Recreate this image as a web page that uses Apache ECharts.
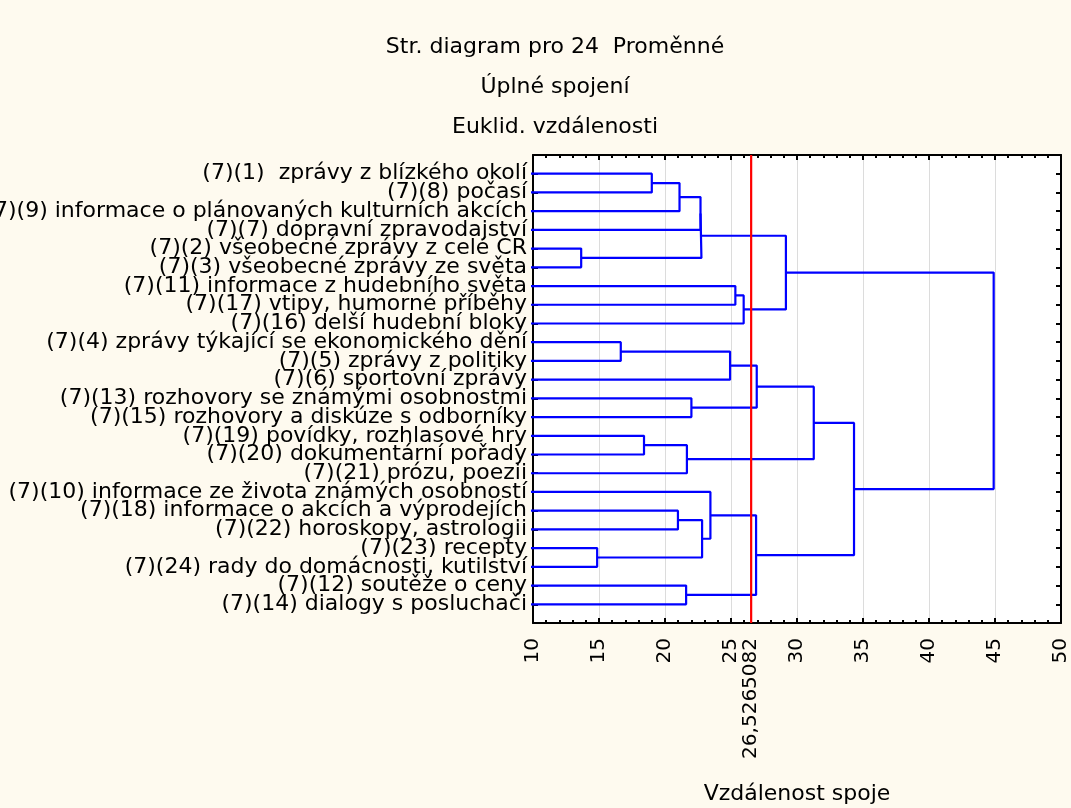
<!DOCTYPE html>
<html>
<head>
<meta charset="utf-8">
<script src="https://cdn.jsdelivr.net/npm/echarts@6/dist/echarts.min.js"></script>
<style>
  html, body { margin: 0; padding: 0; background: #fefaef; }
  #chart { width: 1071px; height: 808px; }
</style>
</head>
<body>
<div id="chart"></div>
<script>
// Leaf labels, top to bottom (dendrogram order)
const leafLabels = [
  "(7)(1)  zprávy z blízkého okolí",
  "(7)(8) počasí",
  "(7)(9) informace o plánovaných kulturních akcích",
  "(7)(7) dopravní zpravodajství",
  "(7)(2) všeobecné zprávy z celé ČR",
  "(7)(3) všeobecné zprávy ze světa",
  "(7)(11) informace z hudebního světa",
  "(7)(17) vtipy, humorné příběhy",
  "(7)(16) delší hudební bloky",
  "(7)(4) zprávy týkající se ekonomického dění",
  "(7)(5) zprávy z politiky",
  "(7)(6) sportovní zprávy",
  "(7)(13) rozhovory se známými osobnostmi",
  "(7)(15) rozhovory a diskúze s odborníky",
  "(7)(19) povídky, rozhlasové hry",
  "(7)(20) dokumentární pořady",
  "(7)(21) prózu, poezii",
  "(7)(10) informace ze života známých osobností",
  "(7)(18) informace o akcích a výprodejích",
  "(7)(22) horoskopy, astrologii",
  "(7)(23) recepty",
  "(7)(24) rady do domácnosti, kutilství",
  "(7)(12) soutěže o ceny",
  "(7)(14) dialogy s posluchači"
];

// Merge steps: child A, child B (leaf index 0..23 or cluster id 24+), linkage distance
const mergeA = [0, 24, 4, 25, 27, 6, 29, 28, 9, 32, 12, 33, 14, 36, 35, 18, 20, 39, 17, 22, 42, 38, 31];
const mergeB = [1, 2, 5, 3, 26, 7, 8, 30, 10, 11, 13, 34, 15, 16, 37, 19, 21, 40, 41, 23, 43, 44, 45];
const mergeDist = [19.0, 21.1, 13.65, 22.69, 22.76, 25.33, 25.96, 29.16, 16.65, 24.93, 22.0, 26.95,
                   18.41, 21.66, 31.27, 20.98, 14.86, 22.81, 23.44, 21.6, 26.9, 34.32, 44.9];

// Cut-off distance
const cutDistance = 26.5265082;

const xTicks = [10, 15, 20, 25, 30, 35, 40, 45, 50];

const titleLines = ["Str. diagram pro 24  Proměnné", "Úplné spojení", "Euklid. vzdálenosti"];
const xAxisName = "Vzdálenost spoje";

// Node positions: leaves sit at rows 1..N, clusters at the midpoint of their children
const nLeaf = leafLabels.length;
const nodeRow = leafLabels.map((_, i) => i + 1);
const nodeDist = leafLabels.map(() => 0);
const linkSeries = [];
for (let k = 0; k < mergeDist.length; k++) {
  const a = mergeA[k], b = mergeB[k], d = mergeDist[k];
  linkSeries.push({
    type: 'line',
    xAxisIndex: 0, yAxisIndex: 0,
    data: [[nodeDist[a], nodeRow[a]], [d, nodeRow[a]], [d, nodeRow[b]], [nodeDist[b], nodeRow[b]]],
    symbol: 'none',
    clip: true,
    silent: true,
    lineStyle: { color: '#0000ff', width: 2.2 },
    z: 3
  });
  nodeRow.push((nodeRow[a] + nodeRow[b]) / 2);
  nodeDist.push(d);
}

const FONT = 'DejaVu Sans';
const chart = echarts.init(document.getElementById('chart'));

chart.setOption({
  backgroundColor: '#fefaef',
  animation: false,
  title: titleLines.map((t, i) => ({
    text: t,
    left: 550,
    textAlign: 'center',
    top: 31 + i * 40,
    textStyle: { fontFamily: FONT, fontSize: 22, fontWeight: 'normal', color: '#000' }
  })),
  grid: {
    left: 533, right: 10, top: 155, bottom: 185,
    containLabel: false,
    outerBoundsMode: 'none',
    show: true, backgroundColor: '#ffffff', borderWidth: 0
  },
  xAxis: [
    {
      type: 'value', position: 'bottom',
      min: 10, max: 50, interval: 5,
      axisLine: { show: true, onZero: false, lineStyle: { color: '#000', width: 2 } },
      axisTick: { show: true, inside: true, length: 5, lineStyle: { color: '#000', width: 2 } },
      minorTick: { show: true, splitNumber: 5, length: 3, lineStyle: { color: '#000', width: 2 } },
      axisLabel: {
        rotate: 90, margin: 15, fontFamily: FONT, fontSize: 20, color: '#000',
        customValues: xTicks
      },
      splitLine: { show: true, lineStyle: { color: '#dcdcdc', width: 1 } },
      name: xAxisName, nameLocation: 'middle', nameGap: 160,
      nameTextStyle: { fontFamily: FONT, fontSize: 22, color: '#000' }
    },
    {
      type: 'value', position: 'bottom',
      min: 10, max: 50,
      axisLine: { show: false },
      axisTick: { show: false },
      splitLine: { show: false },
      axisLabel: {
        rotate: 90, margin: 15, fontFamily: FONT, fontSize: 20, color: '#000',
        customValues: [cutDistance],
        formatter: v => String(v).replace('.', ',')
      }
    },
    {
      type: 'value', position: 'top',
      min: 10, max: 50, interval: 5,
      axisLine: { show: true, onZero: false, lineStyle: { color: '#000', width: 2 } },
      axisTick: { show: true, inside: true, length: 5, lineStyle: { color: '#000', width: 2 } },
      minorTick: { show: true, splitNumber: 5, length: 3, lineStyle: { color: '#000', width: 2 } },
      axisLabel: { show: false },
      splitLine: { show: false }
    }
  ],
  yAxis: [
    {
      type: 'value', position: 'left', inverse: true,
      min: 0, max: nLeaf + 1, interval: 1,
      axisLine: { show: true, onZero: false, lineStyle: { color: '#000', width: 2 } },
      axisTick: { show: true, inside: true, length: 5, lineStyle: { color: '#000', width: 2 } },
      axisLabel: {
        margin: 6, fontFamily: FONT, fontSize: 22, color: '#000',
        formatter: v => (v >= 1 && v <= nLeaf ? leafLabels[v - 1] : '')
      },
      splitLine: { show: false }
    },
    {
      type: 'value', position: 'right', inverse: true,
      min: 0, max: nLeaf + 1, interval: 1,
      axisLine: { show: true, onZero: false, lineStyle: { color: '#000', width: 2 } },
      axisTick: { show: true, inside: true, length: 5, lineStyle: { color: '#000', width: 2 } },
      axisLabel: { show: false },
      splitLine: { show: false }
    }
  ],
  series: linkSeries.concat([
    {
      type: 'line',
      xAxisIndex: 0, yAxisIndex: 0,
      data: [[cutDistance, 0], [cutDistance, nLeaf + 1]],
      symbol: 'none',
      silent: true,
      lineStyle: { color: '#ff0000', width: 2.2 },
      z: 4
    }
  ])
});
</script>
</body>
</html>
